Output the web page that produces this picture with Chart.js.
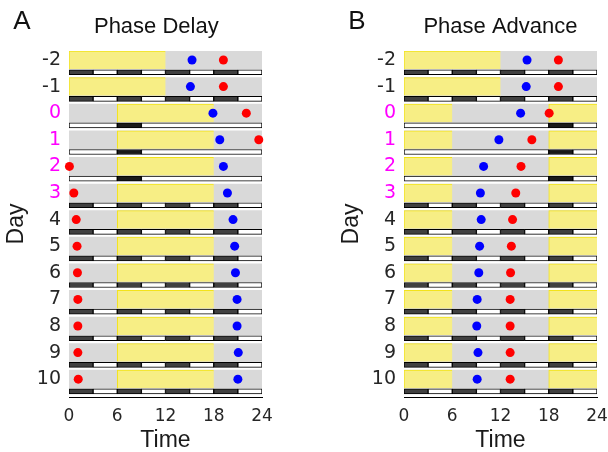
<!DOCTYPE html>
<html>
<head>
<meta charset="utf-8">
<script src="https://cdn.jsdelivr.net/npm/chart.js@4"></script>
<style>
  body { margin: 0; background: #fff; }
  canvas { position: absolute; top: 0; }
  #chartA { left: 0; }
  #chartB { left: 335px; }
</style>
</head>
<body>
<canvas id="chartA" width="335" height="452"></canvas>
<canvas id="chartB" width="273" height="452"></canvas>
<script>
var days = [-2, -1, 0, 1, 2, 3, 4, 5, 6, 7, 8, 9, 10];
var shiftedDays = [0, 1, 2, 3];
var timeTicks = [0, 6, 12, 18, 24];

// light on / off hour for each day (off < on means it wraps over midnight)
var lightOnA = [0, 0, 6, 6, 6, 6, 6, 6, 6, 6, 6, 6, 6];
var lightOffA = [12, 12, 18, 18, 18, 18, 18, 18, 18, 18, 18, 18, 18];
var lightOnB = [0, 0, 18, 18, 18, 18, 18, 18, 18, 18, 18, 18, 18];
var lightOffB = [12, 12, 6, 6, 6, 6, 6, 6, 6, 6, 6, 6, 6];

// days with a single dark pulse instead of the 3 h pattern
var pulseDays = [0, 1, 2];
var pulseStartA = 6;
var pulseStartB = 18;

var delayBlue = [15.3, 15.1, 17.9, 18.75, 19.2, 19.7, 20.4, 20.6, 20.7, 20.9, 20.9, 21.05, 21.0];
var delayRed = [19.2, 19.2, 22.05, 23.6, 0.05, 0.6, 0.9, 1.0, 1.05, 1.1, 1.1, 1.1, 1.15];
var advanceBlue = [15.3, 15.2, 14.5, 11.8, 9.9, 9.5, 9.6, 9.4, 9.3, 9.1, 9.05, 9.2, 9.1];
var advanceRed = [19.2, 19.2, 18.05, 15.9, 14.55, 13.9, 13.5, 13.35, 13.25, 13.2, 13.2, 13.2, 13.2];

var YELLOW = '#f7ee85', GRAY = '#d9d9d9';

function buildStrips(on, off) {
  var pts = [];
  for (var i = 0; i < days.length; i++) {
    pts.push({x: [0, 24], y: days[i], kind: 'dark'});
    if (on[i] < off[i]) {
      pts.push({x: [on[i], off[i]], y: days[i], kind: 'light'});
    } else {
      pts.push({x: [on[i], 24], y: days[i], kind: 'light'});
      pts.push({x: [0, off[i]], y: days[i], kind: 'light'});
    }
  }
  return pts;
}

function buildBars(pulseStart) {
  var pts = [];
  for (var i = 0; i < days.length; i++) {
    var y = days[i] + 0.46;
    if (pulseDays.indexOf(days[i]) >= 0) {
      pts.push({x: [0, pulseStart], y: y, fill: '#ffffff'});
      pts.push({x: [pulseStart, pulseStart + 3], y: y, fill: '#1a1a1a'});
      pts.push({x: [pulseStart + 3, 24], y: y, fill: '#ffffff'});
    } else {
      for (var k = 0; k < 8; k++) {
        pts.push({x: [k * 3, k * 3 + 3], y: y, fill: k % 2 === 0 ? '#404040' : '#ffffff'});
      }
    }
  }
  return pts;
}

function toPoints(values) {
  return values.map(function (v, i) { return {x: v, y: days[i]}; });
}

var panelLetter = {
  id: 'panelLetter',
  afterDraw: function (chart, args, opts) {
    var ctx = chart.ctx;
    ctx.save();
    ctx.font = '26px "Liberation Sans"';
    ctx.fillStyle = '#111';
    ctx.textAlign = 'center';
    ctx.textBaseline = 'middle';
    ctx.fillText(opts.text, 22, 22);
    ctx.restore();
  }
};

function makeChart(id, title, letter, on, off, pulseStart, blue, red, rightPad) {
  return new Chart(document.getElementById(id), {
    type: 'bar',
    data: {
      datasets: [{
        type: 'scatter',
        data: toPoints(blue),
        backgroundColor: '#0000ff',
        borderWidth: 0,
        pointRadius: 4.5,
        clip: false,
        order: 0
      }, {
        type: 'scatter',
        data: toPoints(red),
        backgroundColor: '#ff0000',
        borderWidth: 0,
        pointRadius: 4.5,
        clip: false,
        order: 0
      }, {
        data: buildBars(pulseStart),
        indexAxis: 'y',
        grouped: false,
        barThickness: 5,
        backgroundColor: function (c) { return c.raw ? c.raw.fill : '#fff'; },
        borderColor: '#000',
        borderWidth: 1,
        borderSkipped: false,
        order: 1
      }, {
        data: buildStrips(on, off),
        indexAxis: 'y',
        grouped: false,
        barThickness: 18,
        backgroundColor: function (c) { return c.raw && c.raw.kind === 'light' ? YELLOW : GRAY; },
        borderColor: '#f2e31a',
        borderWidth: function (c) {
          return c.raw && c.raw.kind === 'light' ? {top: 1, left: 1, right: 0, bottom: 0} : 0;
        },
        borderSkipped: false,
        order: 2
      }]
    },
    options: {
      responsive: false,
      devicePixelRatio: 1,
      animation: false,
      indexAxis: 'y',
      layout: {padding: {left: 0, right: rightPad, top: 0, bottom: 0}},
      plugins: {
        legend: {display: false},
        tooltip: {enabled: false},
        title: {
          display: true,
          text: title,
          fullSize: false,
          color: '#111',
          font: {family: 'Liberation Sans', size: 22, weight: 'normal'},
          padding: {top: 14, bottom: 10.6}
        },
        panelLetter: {text: letter}
      },
      scales: {
        x: {
          type: 'linear',
          min: 0,
          max: 24,
          offset: false,
          afterBuildTicks: function (s) { s.ticks = timeTicks.map(function (v) { return {value: v}; }); },
          afterFit: function (s) { s.height = 55; s.paddingLeft = 0; s.paddingRight = 0; },
          grid: {display: false, drawTicks: false},
          border: {display: true, color: '#000', width: 1},
          ticks: {color: '#262626', padding: 9, maxRotation: 0, font: {family: 'DejaVu Sans', size: 17}},
          title: {
            display: true,
            text: 'Time',
            color: '#1a1a1a',
            font: {family: 'Liberation Sans', size: 23},
            padding: {top: 0, bottom: -2}
          }
        },
        y: {
          type: 'linear',
          reverse: true,
          offset: false,
          min: -2.338,
          max: 10.67,
          afterBuildTicks: function (s) { s.ticks = days.map(function (v) { return {value: v}; }); },
          afterFit: function (s) { s.width = 69; s.paddingTop = 0; s.paddingBottom = 0; },
          grid: {display: false, drawTicks: false, offset: false},
          border: {display: false},
          ticks: {
            padding: 8,
            font: {family: 'DejaVu Sans', size: 19},
            color: function (c) {
              return shiftedDays.indexOf(days[c.index]) >= 0 ? '#ff00ff' : '#262626';
            }
          },
          title: {
            display: true,
            text: 'Day',
            color: '#1a1a1a',
            font: {family: 'Liberation Sans', size: 23},
            padding: {top: 3, bottom: 0}
          }
        }
      }
    },
    plugins: [panelLetter]
  });
}

makeChart('chartA', 'Phase Delay   ', 'A', lightOnA, lightOffA, pulseStartA, delayBlue, delayRed, 73);
makeChart('chartB', 'Phase Advance', 'B', lightOnB, lightOffB, pulseStartB, advanceBlue, advanceRed, 11);
</script>
</body>
</html>
